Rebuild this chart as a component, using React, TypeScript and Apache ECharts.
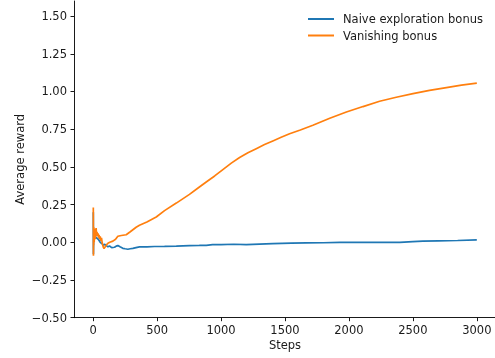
import React, { useEffect, useRef } from "react";
import * as echarts from "echarts";

const seriesNames = ["Naive exploration bonus", "Vanishing bonus"];

const naiveSteps = [1, 2, 4, 8, 15, 25, 40, 55, 70, 80, 88, 100, 115, 128, 145, 167, 180, 193, 210, 232, 250, 271, 290, 310, 335, 362, 420, 480, 558, 650, 753, 830, 884, 934, 1000, 1100, 1197, 1300, 1404, 1550, 1667, 1800, 1930, 2050, 2190, 2300, 2398, 2500, 2578, 2700, 2850, 3000];
const naiveValues = [0.2, -0.08, 0.05, 0.02, 0.04, 0.03, 0.02, 0.0, -0.01, -0.02, -0.013, -0.02, -0.03, -0.025, -0.035, -0.033, -0.025, -0.022, -0.03, -0.04, -0.043, -0.046, -0.043, -0.04, -0.035, -0.03, -0.03, -0.028, -0.027, -0.025, -0.022, -0.021, -0.02, -0.016, -0.015, -0.013, -0.016, -0.012, -0.009, -0.006, -0.004, -0.003, -0.001, -0.001, 0.0, -0.001, 0.0, 0.005, 0.008, 0.01, 0.012, 0.016];

const vanishSteps = [1, 2, 3, 4, 5, 6, 7, 8, 10, 12, 14, 16, 18, 20, 23, 26, 30, 34, 38, 42, 46, 50, 55, 60, 65, 70, 75, 80, 85, 95, 105, 115, 130, 154, 175, 193, 220, 258, 290, 336, 362, 420, 493, 558, 650, 753, 820, 884, 950, 1014, 1080, 1145, 1210, 1275, 1340, 1405, 1470, 1536, 1620, 1718, 1850, 1980, 2110, 2240, 2370, 2501, 2630, 2762, 2880, 3000];
const vanishValues = [0.23, -0.09, 0.08, -0.02, 0.1, 0.02, 0.07, 0.0, 0.09, 0.03, 0.07, 0.02, 0.06, 0.04, 0.095, 0.05, 0.07, 0.04, 0.06, 0.03, 0.05, 0.02, 0.04, 0.01, 0.03, 0.0, -0.02, -0.035, -0.04, -0.03, -0.015, -0.007, 0.0, 0.008, 0.02, 0.04, 0.045, 0.05, 0.07, 0.1, 0.113, 0.135, 0.168, 0.21, 0.26, 0.318, 0.36, 0.4, 0.44, 0.482, 0.525, 0.562, 0.593, 0.621, 0.648, 0.672, 0.696, 0.72, 0.745, 0.776, 0.822, 0.864, 0.9, 0.935, 0.962, 0.986, 1.007, 1.026, 1.042, 1.056];

const xTicks = [0, 500, 1000, 1500, 2000, 2500, 3000];
const yTicks = [-0.5, -0.25, 0, 0.25, 0.5, 0.75, 1.0, 1.25, 1.5];

const FONT = "DejaVu Sans";
const FS = 11.5;
const TXT = "#1a1a1a";

function fmtY(v: number) {
  const s = Math.abs(v).toFixed(2);
  return v < -1e-9 ? "\u2212" + s : s;
}

export default function App() {
  const ref = useRef<HTMLDivElement>(null);
  useEffect(() => {
    if (!ref.current) return;
    const chart = echarts.init(ref.current, null, { renderer: "svg" });
    const axisLine = { show: true, onZero: false, lineStyle: { color: "#000", width: 0.9 } };
    chart.setOption({
      animation: false,
      textStyle: { fontFamily: FONT },
      grid: { left: 74, top: 1, width: 422, height: 316.7, containLabel: false, outerBoundsMode: "none" },
      legend: {
        orient: "vertical",
        left: 308,
        top: 13,
        padding: 0,
        itemWidth: 26,
        itemHeight: 2,
        itemGap: 4.5,
        icon: "rect",
        textStyle: { fontFamily: FONT, fontSize: FS, color: TXT, padding: [0, 0, 0, 4] },
        data: seriesNames,
      },
      xAxis: {
        type: "value",
        min: -150,
        max: 3150,
        name: "Steps",
        nameLocation: "middle",
        nameGap: 21,
        nameMoveOverlap: false,
        nameTextStyle: { fontFamily: FONT, fontSize: FS, color: TXT },
        axisLine,
        axisTick: { show: true, length: 3.5, lineStyle: { color: "#000", width: 0.9 }, customValues: xTicks },
        axisLabel: { fontFamily: FONT, fontSize: FS, color: TXT, margin: 6, customValues: xTicks, formatter: (v: number) => String(v) },
        splitLine: { show: false },
      },
      yAxis: {
        type: "value",
        min: -0.5,
        max: 1.6,
        name: "Average reward",
        nameLocation: "middle",
        nameGap: 48,
        nameMoveOverlap: false,
        nameTextStyle: { fontFamily: FONT, fontSize: FS, color: TXT },
        axisLine,
        axisTick: { show: true, length: 3.5, lineStyle: { color: "#000", width: 0.9 }, customValues: yTicks },
        axisLabel: { fontFamily: FONT, fontSize: FS, color: TXT, margin: 7, customValues: yTicks, formatter: fmtY },
        splitLine: { show: false },
      },
      series: [
        {
          name: seriesNames[0],
          type: "line",
          showSymbol: false,
          symbol: "none",
          data: naiveSteps.map((s, i) => [s, naiveValues[i]]),
          lineStyle: { color: "#1f77b4", width: 1.7 },
          itemStyle: { color: "#1f77b4" },
          z: 2,
        },
        {
          name: seriesNames[1],
          type: "line",
          showSymbol: false,
          symbol: "none",
          data: vanishSteps.map((s, i) => [s, vanishValues[i]]),
          lineStyle: { color: "#ff7f0e", width: 1.7 },
          itemStyle: { color: "#ff7f0e" },
          z: 3,
        },
      ],
    });
    return () => chart.dispose();
  }, []);
  return <div ref={ref} style={{ position: "fixed", left: 0, top: 0, width: 495, height: 358 }} />;
}
